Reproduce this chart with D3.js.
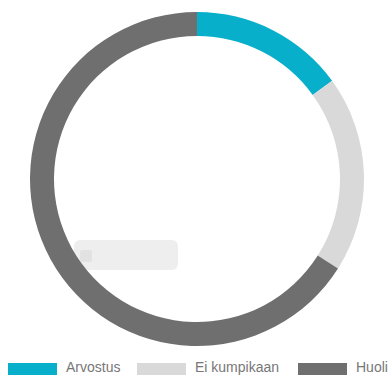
<!DOCTYPE html>
<html>
<head>
<meta charset="utf-8">
<script src="https://cdn.jsdelivr.net/npm/d3@7"></script>
<style>
  html, body { margin: 0; padding: 0; background: #fff; overflow: hidden; }
  svg { display: block; }
</style>
</head>
<body>
<svg id="chart" width="391" height="375"></svg>
<script>
// Share of answers per category (percent)
const categories = ["Arvostus", "Ei kumpikaan", "Huoli"];
const values = [15, 19, 66];
const colors = ["#08afcb", "#d9d9d9", "#6f6f6f"];

const svg = d3.select("#chart");
const cx = 197, cy = 179;
const outerR = 167, innerR = 143;

// faded hover label box inside the ring
const tip = svg.append("g").attr("class", "tip");
tip.append("rect")
  .attr("x", 74).attr("y", 240).attr("width", 104).attr("height", 30)
  .attr("rx", 6).attr("fill", "#eeeeee");
tip.append("rect")
  .attr("x", 80).attr("y", 250).attr("width", 12).attr("height", 12)
  .attr("rx", 2).attr("fill", "#e2e2e2");

const pie = d3.pie().sort(null).value(d => d.value);
const arc = d3.arc().innerRadius(innerR).outerRadius(outerR);
const data = categories.map((c, i) => ({ name: c, value: values[i], color: colors[i] }));

svg.append("g")
  .attr("transform", `translate(${cx},${cy})`)
  .selectAll("path")
  .data(pie(data))
  .join("path")
  .attr("d", arc)
  .attr("fill", d => d.data.color);

// legend along the bottom edge
const legendX = d3.scaleOrdinal().domain(categories).range([8, 137, 298]);
const legend = svg.append("g")
  .selectAll("g")
  .data(data)
  .join("g")
  .attr("transform", d => `translate(${legendX(d.name)},363)`);
legend.append("rect")
  .attr("width", 49).attr("height", 16)
  .attr("fill", d => d.color);
legend.append("text")
  .attr("x", 58).attr("y", 8.5)
  .attr("font-family", "Liberation Sans, Arial, sans-serif")
  .attr("font-size", 14)
  .attr("fill", "#777")
  .text(d => d.name);
</script>
</body>
</html>
